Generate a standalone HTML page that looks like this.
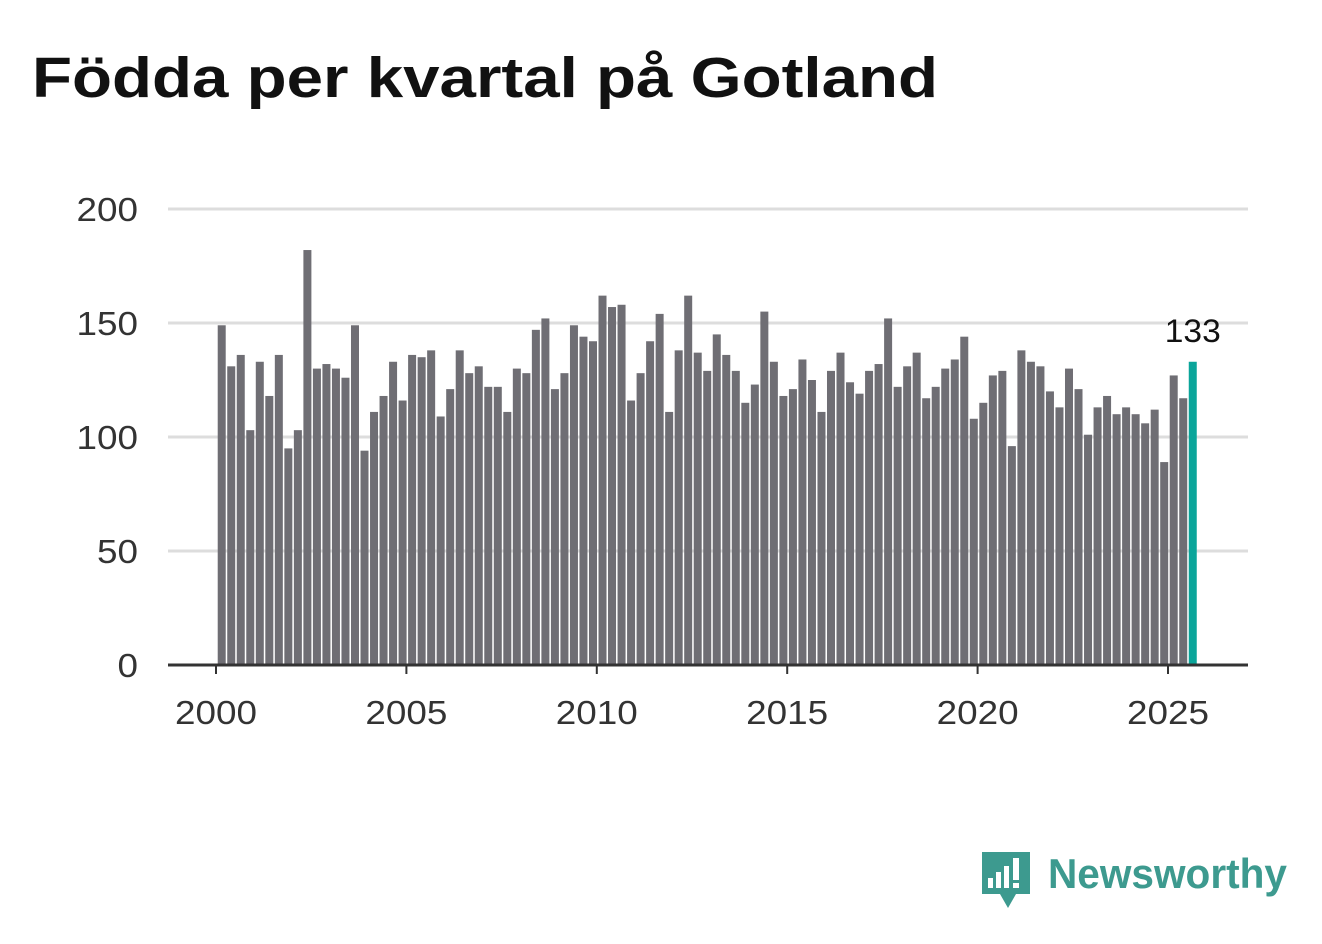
<!DOCTYPE html>
<html><head><meta charset="utf-8"><style>
body{margin:0;background:#fff;width:1322px;height:939px;overflow:hidden;font-family:"Liberation Sans",sans-serif}
</style></head><body>
<svg width="1322" height="939">
<text x="32" y="97" font-size="57" font-weight="bold" fill="#111" textLength="906" lengthAdjust="spacingAndGlyphs">Födda per kvartal på Gotland</text>
<g id="grid"></g><g id="bars"></g><g id="axis"></g>
<g>
<path d="M982 852 h48 v42 h-14 l-8 14 l-8 -14 h-18 z" fill="#3d9a8f"/>
<rect x="988" y="878" width="5" height="10" fill="#fff"/><rect x="996" y="872" width="5" height="16" fill="#fff"/><rect x="1004" y="866" width="5" height="22" fill="#fff"/><rect x="1013" y="858" width="6" height="22" fill="#fff"/><rect x="1013" y="883" width="6" height="5" fill="#fff"/>
<text x="1048" y="888" font-size="42" font-weight="bold" fill="#3d9a8f" textLength="239" lengthAdjust="spacingAndGlyphs">Newsworthy</text>
</g>
</svg>
<script>
const values=[149,131,136,103,133,118,136,95,103,182,130,132,130,126,149,94,111,118,133,116,136,135,138,109,121,138,128,131,122,122,111,130,128,147,152,121,128,149,144,142,162,157,158,116,128,142,154,111,138,162,137,129,145,136,129,115,123,155,133,118,121,134,125,111,129,137,124,119,129,132,152,122,131,137,117,122,130,134,144,108,115,127,129,96,138,133,131,120,113,130,121,101,113,118,110,113,110,106,112,89,127,117,133];
const startYear=2000;
const yTicks=[0,50,100,150,200];
const xTicks=[2000,2005,2010,2015,2020,2025];
const NS="http://www.w3.org/2000/svg";
const y=v=>665-v*2.28;
const x=t=>216+(t-2000)*38.08;
function mk(tag,attrs,parent,text){const e=document.createElementNS(NS,tag);for(const k in attrs)e.setAttribute(k,attrs[k]);if(text!==undefined)e.textContent=text;parent.appendChild(e);return e;}
const grid=document.getElementById('grid'),bars=document.getElementById('bars'),axis=document.getElementById('axis');
yTicks.forEach(t=>{
 if(t>0){const l=mk('line',{x1:168,x2:1248,y1:y(t),y2:y(t),stroke:'#ddd','stroke-width':3},grid);
 
 }
 const s=String(t);
 const tx=mk('text',{x:138,y:y(t)+12,'font-size':33,fill:'#333','text-anchor':'end',textLength:s.length*20.5,lengthAdjust:'spacingAndGlyphs'},axis,s);
 
 
});
values.forEach((v,i)=>{
 const cx=x(startYear+(i+0.6)/4);
 const last=i===values.length-1;
 const r=mk('rect',{x:cx-4,y:y(v),width:8,height:665-y(v),fill:last?'#0aa59a':'#6f6e74'},bars);
 
 
 if(last){const t=mk('text',{x:cx,y:y(v)-20,'font-size':32,fill:'#111','text-anchor':'middle',textLength:56,lengthAdjust:'spacingAndGlyphs'},bars,String(v));
 
 }
});
const al=mk('line',{x1:168,x2:1248,y1:665,y2:665,stroke:'#333','stroke-width':3},axis);


xTicks.forEach(t=>{
 const tk=mk('line',{x1:x(t),x2:x(t),y1:665,y2:674,stroke:'#333','stroke-width':2},axis);
 
 
 const tx=mk('text',{x:x(t),y:724,'font-size':33,fill:'#333','text-anchor':'middle',textLength:82,lengthAdjust:'spacingAndGlyphs'},axis,String(t));
 
 
});
</script>
</body></html>
